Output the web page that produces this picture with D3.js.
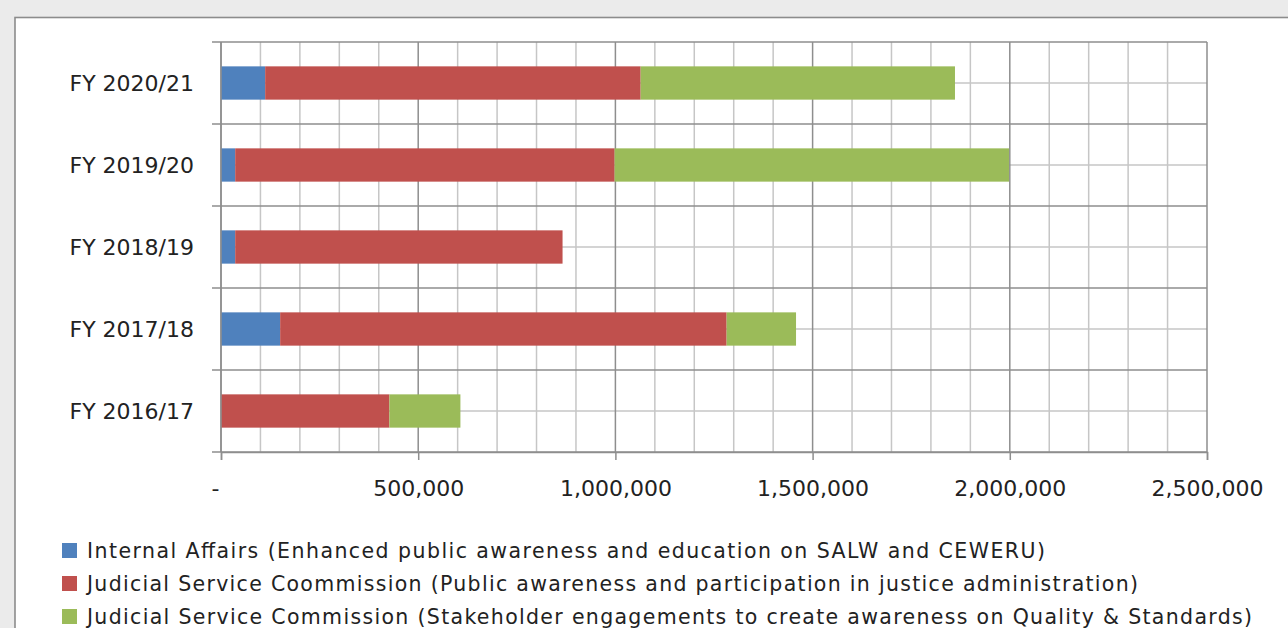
<!DOCTYPE html>
<html>
<head>
<meta charset="utf-8">
<script src="https://cdn.jsdelivr.net/npm/d3@7"></script>
<style>
  html, body { margin: 0; padding: 0; background: #ebebeb; overflow: hidden; }
  svg { display: block; }
</style>
</head>
<body>
<svg id="chart" width="1288" height="628"></svg>
<script>
// Fiscal years, bottom to top
const categories = ["FY 2016/17", "FY 2017/18", "FY 2018/19", "FY 2019/20", "FY 2020/21"];

// Spending per programme (KSh)
const internalAffairs  = [0, 150000, 36000, 36000, 112000];
const jscPublic        = [427000, 1132000, 830000, 962000, 952000];
const jscStakeholders  = [180000, 176000, 0, 1000000, 797000];

const seriesNames = [
  "Internal Affairs (Enhanced public awareness and education on SALW and CEWERU)",
  "Judicial Service Coommission (Public awareness and participation in justice administration)",
  "Judicial Service Commission (Stakeholder engagements to create awareness on Quality & Standards)"
];
const seriesColors = ["#4f81bd", "#c0504d", "#9bbb59"];

const xTickValues = [0, 500000, 1000000, 1500000, 2000000, 2500000];
const xMax = 2500000;

const svg = d3.select("#chart");

// white chart panel
svg.append("rect")
  .attr("x", 15).attr("y", 17.5)
  .attr("width", 1300).attr("height", 700)
  .attr("fill", "#ffffff")
  .attr("stroke", "#8c8c8c")
  .attr("stroke-width", 1.6);

const plot = { left: 221, right: 1207, top: 42, bottom: 452 };

const x = d3.scaleLinear().domain([0, xMax]).range([plot.left, plot.right]);
const y = d3.scaleBand()
  .domain(categories.slice().reverse())
  .range([plot.top, plot.bottom])
  .padding(0);

const grid = svg.append("g");
const major = "#8e8e8e", minor = "#c6c6c6";

// vertical minor gridlines every 100,000
const minorTicks = d3.range(0, xMax + 1, 100000).filter(v => v % 500000 !== 0);
grid.selectAll("line.vminor").data(minorTicks).join("line")
  .attr("x1", d => x(d)).attr("x2", d => x(d))
  .attr("y1", plot.top).attr("y2", plot.bottom)
  .attr("stroke", minor).attr("stroke-width", 1.5);

// horizontal mid-band gridlines
grid.selectAll("line.hminor").data(categories).join("line")
  .attr("x1", plot.left).attr("x2", plot.right)
  .attr("y1", d => y(d) + y.bandwidth() / 2).attr("y2", d => y(d) + y.bandwidth() / 2)
  .attr("stroke", minor).attr("stroke-width", 1.5);

// vertical major gridlines
grid.selectAll("line.vmajor").data(xTickValues).join("line")
  .attr("x1", d => x(d)).attr("x2", d => x(d))
  .attr("y1", plot.top).attr("y2", plot.bottom)
  .attr("stroke", major).attr("stroke-width", 1.5);

// category boundary lines (and y-axis ticks)
const boundaries = categories.map(c => y(c)).concat([plot.bottom]);
grid.selectAll("line.hmajor").data(boundaries).join("line")
  .attr("x1", plot.left - 9).attr("x2", plot.right)
  .attr("y1", d => d).attr("y2", d => d)
  .attr("stroke", major).attr("stroke-width", 1.5);

// stacked bars
const stackData = categories.map((c, i) => ({
  cat: c, s0: internalAffairs[i], s1: jscPublic[i], s2: jscStakeholders[i]
}));
const stacked = d3.stack().keys(["s0", "s1", "s2"])(stackData);
const barH = y.bandwidth() * 0.406;

svg.append("g").selectAll("g").data(stacked).join("g")
  .attr("fill", (d, i) => seriesColors[i])
  .selectAll("rect").data(d => d).join("rect")
  .attr("x", d => x(d[0]))
  .attr("width", d => Math.max(0, x(d[1]) - x(d[0])))
  .attr("y", d => y(d.data.cat) + (y.bandwidth() - barH) / 2)
  .attr("height", barH);

// x axis
const xAxis = d3.axisBottom(x)
  .tickValues(xTickValues)
  .tickSize(8)
  .tickFormat(d => d === 0 ? "-" : d3.format(",")(d));
const xg = svg.append("g").attr("transform", `translate(0,${plot.bottom})`).call(xAxis);
xg.select(".domain").attr("stroke", major).attr("stroke-width", 1.5);
xg.selectAll(".tick line").attr("stroke", major).attr("stroke-width", 1.5);
xg.selectAll(".tick text")
  .attr("y", 44)
  .attr("dy", 0)
  .attr("fill", "#222")
  .style("font-family", "'DejaVu Sans', sans-serif")
  .style("font-size", "22px");
xg.selectAll(".tick text").filter(d => d === 0).attr("dx", -6);

// y axis line
svg.append("line")
  .attr("x1", plot.left).attr("x2", plot.left)
  .attr("y1", plot.top).attr("y2", plot.bottom)
  .attr("stroke", major).attr("stroke-width", 1.5);

// category labels
svg.append("g").selectAll("text").data(categories).join("text")
  .attr("x", 194)
  .attr("y", d => y(d) + y.bandwidth() / 2 + 8)
  .attr("text-anchor", "end")
  .attr("fill", "#222")
  .style("font-family", "'DejaVu Sans', sans-serif")
  .style("font-size", "22px")
  .text(d => d);

// legend
const legendWidths = [958, 1051, 1165];
const legend = svg.append("g").attr("transform", "translate(62,558)");
const items = legend.selectAll("g").data(seriesNames).join("g")
  .attr("transform", (d, i) => `translate(0,${i * 33})`);
items.append("rect")
  .attr("x", 0).attr("y", -15)
  .attr("width", 15).attr("height", 15)
  .attr("fill", (d, i) => seriesColors[i]);
items.append("text")
  .attr("x", 25).attr("y", 0)
  .attr("fill", "#222")
  .attr("textLength", (d, i) => legendWidths[i])
  .attr("lengthAdjust", "spacing")
  .style("font-family", "'DejaVu Sans', sans-serif")
  .style("font-size", "20.5px")
  .text(d => d);
</script>
</body>
</html>
